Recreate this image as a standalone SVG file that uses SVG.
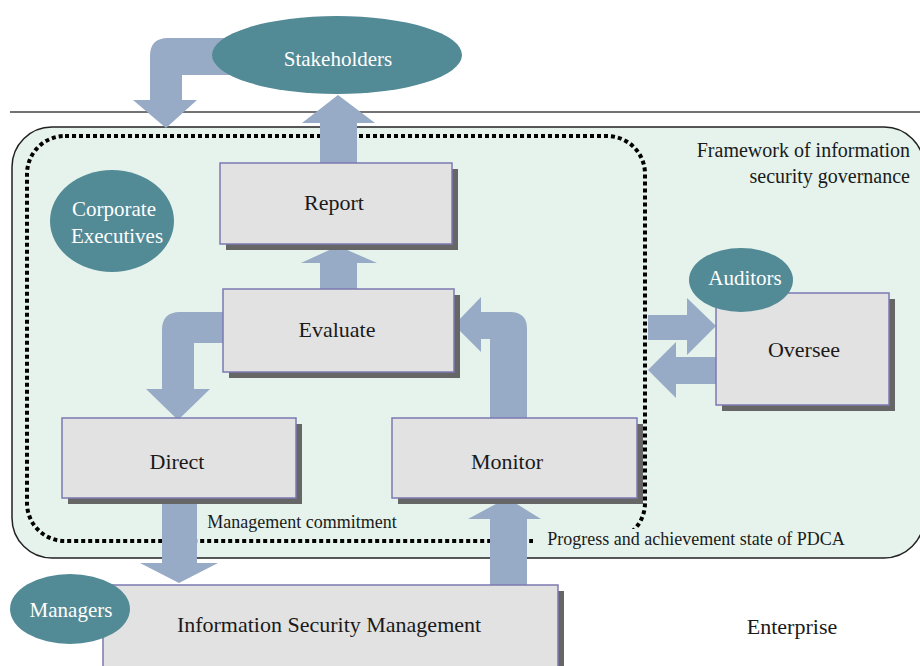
<svg xmlns="http://www.w3.org/2000/svg" width="920" height="666" viewBox="0 0 920 666">
  <rect width="920" height="666" fill="#ffffff"/>

  <!-- enterprise boundary line -->
  <line x1="10" y1="112" x2="920" y2="112" stroke="#444" stroke-width="1.5"/>

  <!-- governance framework area -->
  <g id="framework">
    <rect x="12" y="127" width="912" height="431" rx="40" ry="40" fill="#e5f3ec" stroke="#222" stroke-width="1.5"/>
    <text font-family="Liberation Serif" fill="#1a1a1a" font-size="20" x="910" y="157" text-anchor="end">Framework of information</text>
    <text font-family="Liberation Serif" fill="#1a1a1a" font-size="20" x="910" y="183" text-anchor="end">security governance</text>
  </g>

  <!-- management commitment boundary -->
  <g id="commitment">
    <rect x="27" y="136" width="618" height="405" rx="38" ry="38" fill="none" stroke="#000" stroke-width="4" stroke-dasharray="4 3"/>
  </g>

  <!-- block arrows -->
  <g id="connectors" fill="#97aac6">
    <path d="M240 38 L168 38 Q150 38 150 56 L150 100 L133 100 L166 128 L197 100 L182 100 L182 75 L240 75 Z"/>
    <path d="M320 163 L320 123 L302 123 L338 95 L375 123 L357 123 L357 163 Z"/>
    <path d="M320 289 L320 263 L301 263 L338 246 L377 263 L357 263 L357 289 Z"/>
    <path d="M223 312 L180 312 Q162 312 162 330 L162 389 L146 389 L178 420 L210 389 L194 389 L194 343 L223 343 Z"/>
    <path d="M490 418 L490 339 L481 339 L481 352 L454 325 L481 297 L481 312 L510 312 Q527 312 527 329 L527 418 Z"/>
    <path d="M648 315 L687 315 L687 298 L716 326 L687 355 L687 340 L648 340 Z"/>
    <path d="M716 357 L676 357 L676 342 L648 370 L676 398 L676 384 L716 384 Z"/>
    <path d="M162 500 L197 500 L197 563 L218 563 L179 583 L140 563 L162 563 Z"/>
    <path d="M490 585 L490 519 L468 519 L507 498 L541 519 L527 519 L527 585 Z"/>
  </g>

  <g id="stakeholders">
    <ellipse fill="#528a96" cx="337" cy="55" rx="125" ry="39"/>
    <text font-family="Liberation Serif" fill="#ffffff" font-size="21" x="338" y="66" text-anchor="middle">Stakeholders</text>
  </g>

  <g id="corporate-executives">
    <ellipse fill="#528a96" cx="112" cy="221" rx="62" ry="51"/>
    <text font-family="Liberation Serif" fill="#ffffff" font-size="21" x="114" y="216" text-anchor="middle">Corporate</text>
    <text font-family="Liberation Serif" fill="#ffffff" font-size="21" x="117" y="243" text-anchor="middle">Executives</text>
  </g>

  <g id="report">
    <rect fill="#666" x="226" y="169" width="232" height="81"/>
    <rect fill="#e2e2e2" stroke="#7c7ab2" stroke-width="1.5" x="220" y="163" width="232" height="81"/>
    <text font-family="Liberation Serif" fill="#1a1a1a" font-size="22" x="334" y="210" text-anchor="middle">Report</text>
  </g>

  <g id="evaluate">
    <rect fill="#666" x="229" y="295" width="231" height="83"/>
    <rect fill="#e2e2e2" stroke="#7c7ab2" stroke-width="1.5" x="223" y="289" width="231" height="83"/>
    <text font-family="Liberation Serif" fill="#1a1a1a" font-size="22" x="337" y="337" text-anchor="middle">Evaluate</text>
  </g>

  <g id="direct">
    <rect fill="#666" x="68" y="424" width="234" height="80"/>
    <rect fill="#e2e2e2" stroke="#7c7ab2" stroke-width="1.5" x="62" y="418" width="234" height="80"/>
    <text font-family="Liberation Serif" fill="#1a1a1a" font-size="22" x="177" y="469" text-anchor="middle">Direct</text>
  </g>

  <g id="monitor">
    <rect fill="#666" x="398" y="424" width="245" height="80"/>
    <rect fill="#e2e2e2" stroke="#7c7ab2" stroke-width="1.5" x="392" y="418" width="245" height="80"/>
    <text font-family="Liberation Serif" fill="#1a1a1a" font-size="22" x="507" y="469" text-anchor="middle">Monitor</text>
  </g>

  <g id="oversee">
    <rect fill="#666" x="722" y="299" width="173" height="112"/>
    <rect fill="#e2e2e2" stroke="#7c7ab2" stroke-width="1.5" x="716" y="293" width="173" height="112"/>
    <text font-family="Liberation Serif" fill="#1a1a1a" font-size="22" x="804" y="357" text-anchor="middle">Oversee</text>
  </g>

  <g id="auditors">
    <ellipse fill="#528a96" cx="741" cy="280" rx="52" ry="32"/>
    <text font-family="Liberation Serif" fill="#ffffff" font-size="21" x="745" y="285" text-anchor="middle">Auditors</text>
  </g>

  <g id="information-security-management">
    <rect fill="#666" x="109" y="591" width="455" height="80"/>
    <rect fill="#e2e2e2" stroke="#7c7ab2" stroke-width="1.5" x="103" y="585" width="455" height="90"/>
    <text font-family="Liberation Serif" fill="#1a1a1a" font-size="22" x="329" y="632" text-anchor="middle">Information Security Management</text>
  </g>

  <g id="managers">
    <ellipse fill="#528a96" cx="70" cy="609" rx="60" ry="35"/>
    <text font-family="Liberation Serif" fill="#ffffff" font-size="21" x="71" y="617" text-anchor="middle">Managers</text>
  </g>

  <g id="labels">
    <text font-family="Liberation Serif" fill="#1a1a1a" font-size="18" x="302" y="528" text-anchor="middle">Management commitment</text>
    <rect x="533" y="529" width="118" height="22" fill="#e5f3ec"/>
    <text font-family="Liberation Serif" fill="#1a1a1a" font-size="18" x="696" y="545" text-anchor="middle">Progress and achievement state of PDCA</text>
    <text font-family="Liberation Serif" fill="#1a1a1a" font-size="22" x="792" y="634" text-anchor="middle">Enterprise</text>
  </g>
</svg>
